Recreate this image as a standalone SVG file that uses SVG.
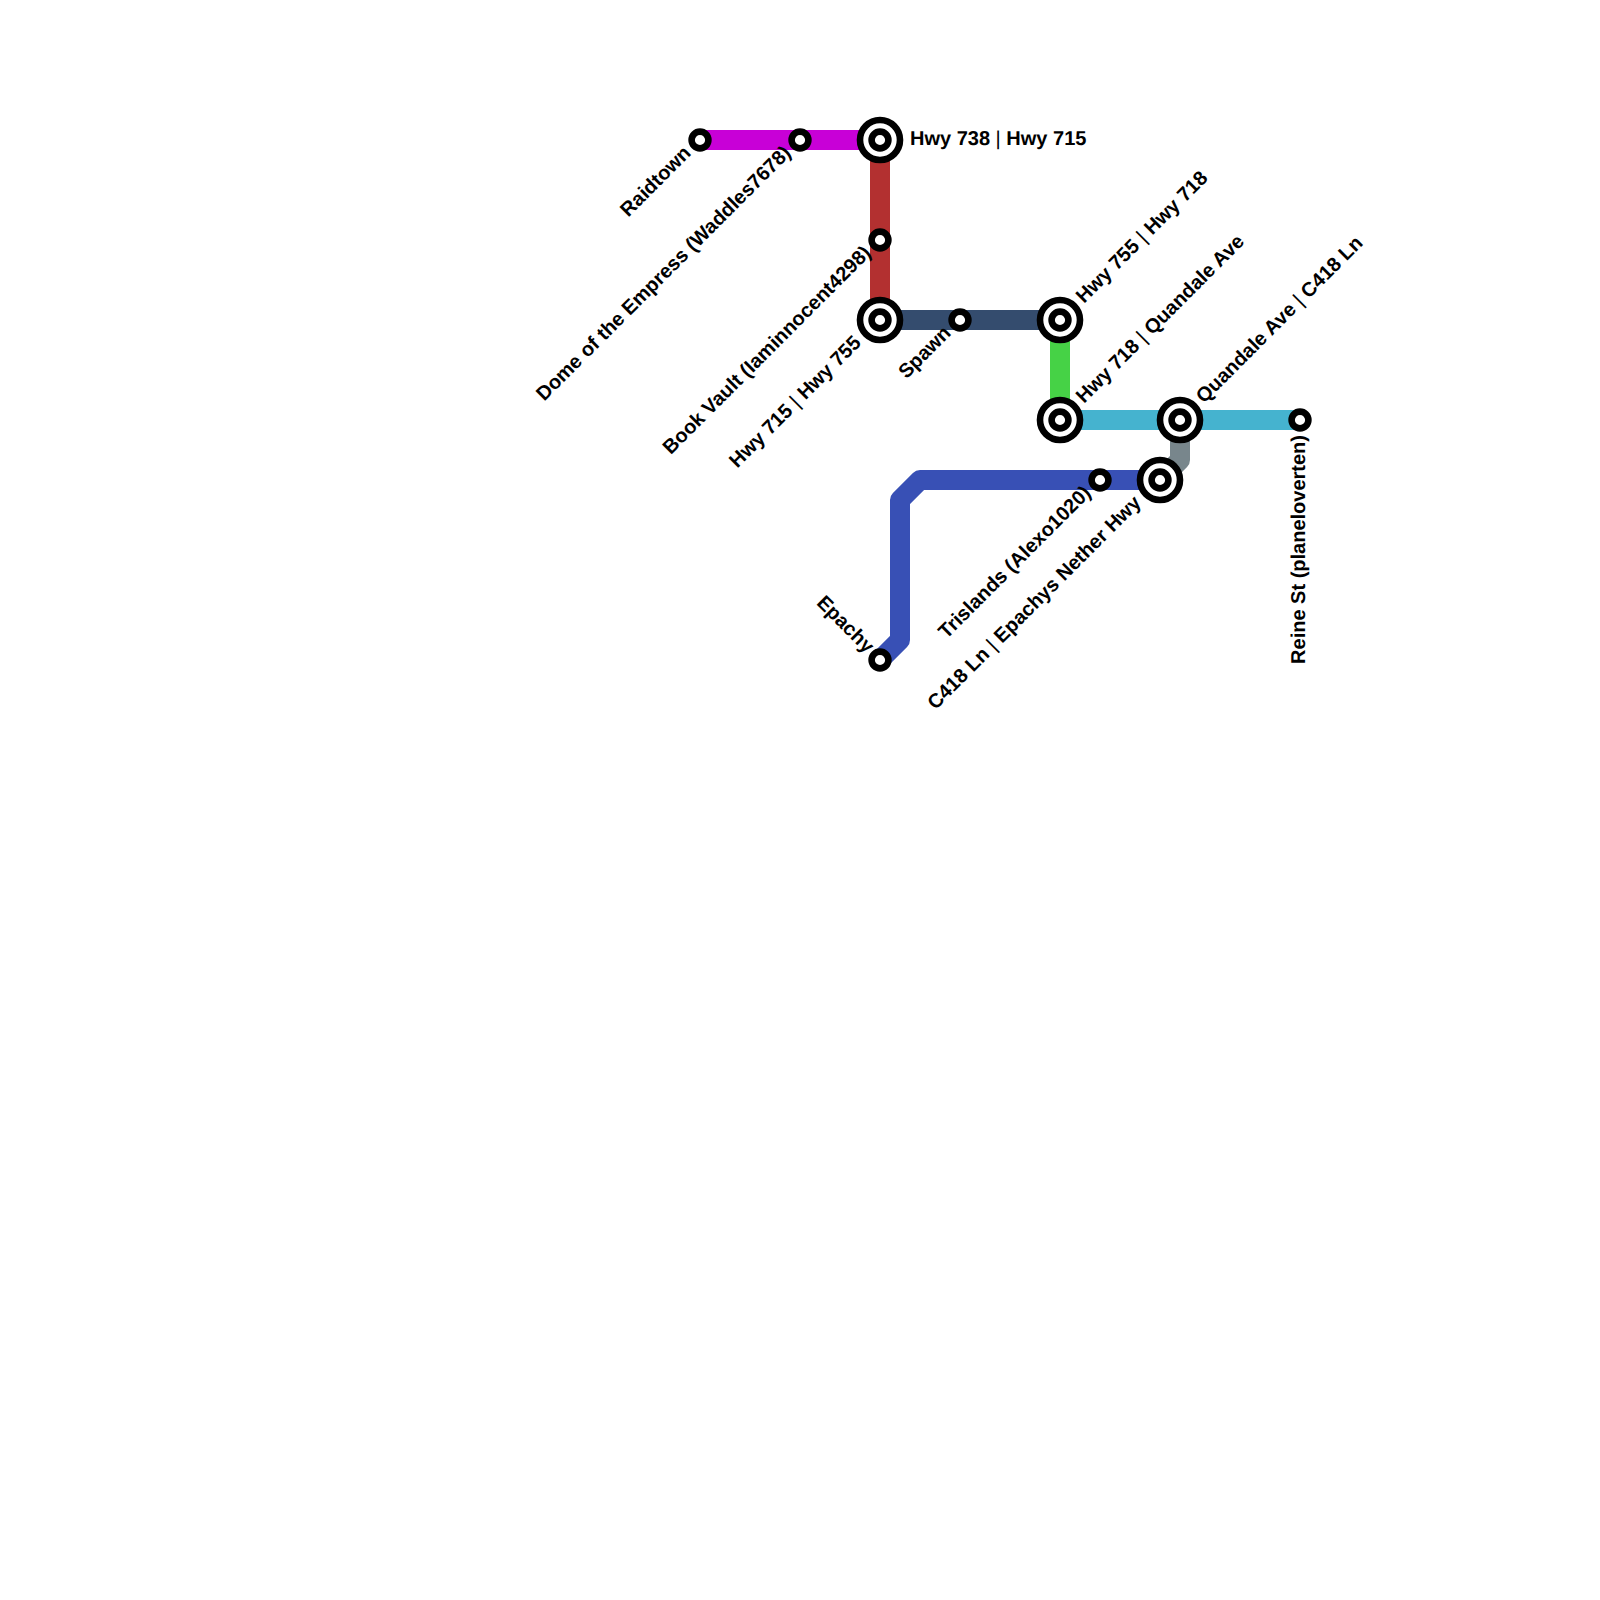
<svg xmlns="http://www.w3.org/2000/svg" width="1600" height="1600" viewBox="0 0 1600 1600">
<style>
.l{fill:none;stroke-width:20;stroke-linejoin:round;stroke-linecap:butt}
.o{fill:#fff;stroke:#000;stroke-width:6.6}
.t{font-family:"Liberation Sans",Arial,sans-serif;font-weight:700;font-size:20px;fill:#000;text-rendering:geometricPrecision}
.e{text-anchor:end}
.p{font-weight:400}
</style>
<rect width="1600" height="1600" fill="#fff"/>
<g id="connectors">
<path class="l" stroke="#c800d7" d="M700 140H880"/>
<path class="l" stroke="#b33030" d="M880 140V320"/>
<path class="l" stroke="#344c6e" d="M880 320H1060"/>
<path class="l" stroke="#46d246" d="M1060 320V420"/>
<path class="l" stroke="#45b3cf" d="M1060 420H1300"/>
<path class="l" stroke="#78868c" d="M1180 420V460L1160 480"/>
<path class="l" stroke="#3850b5" d="M1160 480H920L900 500V640L880 660"/>
</g>
<g id="raidtown"><circle class="o" cx="700" cy="140" r="8.4"/><text class="t e" transform="translate(692 154) rotate(-45)">Raidtown</text></g>
<g id="dome"><circle class="o" cx="800" cy="140" r="8.4"/><text class="t e" transform="translate(792 154) rotate(-45)">Dome of the Empress (Waddles7678)</text></g>
<g id="hwy738"><circle class="o" cx="880" cy="140" r="20"/><circle class="o" cx="880" cy="140" r="8.4"/><text class="t" x="910" y="145">Hwy 738 <tspan class="p">|</tspan> Hwy 715</text></g>
<g id="bookvault"><circle class="o" cx="880" cy="240" r="8.4"/><text class="t e" transform="translate(872 254) rotate(-45)">Book Vault (Iaminnocent4298)</text></g>
<g id="hwy715"><circle class="o" cx="880" cy="320" r="20"/><circle class="o" cx="880" cy="320" r="8.4"/><text class="t e" transform="translate(862 344) rotate(-45)">Hwy 715 <tspan class="p">|</tspan> Hwy 755</text></g>
<g id="spawn"><circle class="o" cx="960" cy="320" r="8.4"/><text class="t e" transform="translate(952 334) rotate(-45)">Spawn</text></g>
<g id="hwy755"><circle class="o" cx="1060" cy="320" r="20"/><circle class="o" cx="1060" cy="320" r="8.4"/><text class="t" transform="translate(1084 304) rotate(-45)">Hwy 755 <tspan class="p">|</tspan> Hwy 718</text></g>
<g id="hwy718"><circle class="o" cx="1060" cy="420" r="20"/><circle class="o" cx="1060" cy="420" r="8.4"/><text class="t" transform="translate(1084 404) rotate(-45)">Hwy 718 <tspan class="p">|</tspan> Quandale Ave</text></g>
<g id="quandale"><circle class="o" cx="1180" cy="420" r="20"/><circle class="o" cx="1180" cy="420" r="8.4"/><text class="t" transform="translate(1204 404) rotate(-45)">Quandale Ave <tspan class="p">|</tspan> C418 Ln</text></g>
<g id="reine"><circle class="o" cx="1300" cy="420" r="8.4"/><text class="t e" transform="translate(1305 435) rotate(-90)">Reine St (planeloverten)</text></g>
<g id="trislands"><circle class="o" cx="1100" cy="480" r="8.4"/><text class="t e" transform="translate(1092 494) rotate(-45)">Trislands (Alexo1020)</text></g>
<g id="c418"><circle class="o" cx="1160" cy="480" r="20"/><circle class="o" cx="1160" cy="480" r="8.4"/><text class="t e" transform="translate(1142 504) rotate(-45)">C418 Ln <tspan class="p">|</tspan> Epachys Nether Hwy</text></g>
<g id="epachy"><circle class="o" cx="880" cy="660" r="8.4"/><text class="t e" transform="translate(866 654) rotate(45)">Epachy</text></g>
</svg>
